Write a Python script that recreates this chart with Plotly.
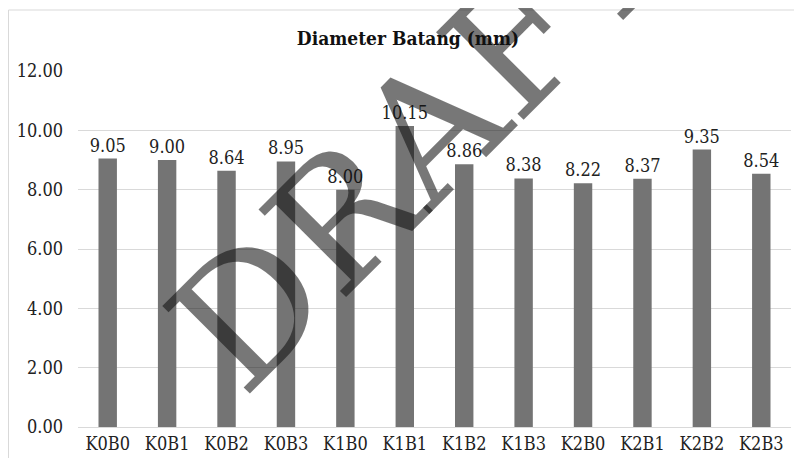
import plotly.graph_objects as go

categories = ["K0B0", "K0B1", "K0B2", "K0B3", "K1B0", "K1B1",
              "K1B2", "K1B3", "K2B0", "K2B1", "K2B2", "K2B3"]
values = [9.05, 9.00, 8.64, 8.95, 8.00, 10.15, 8.86, 8.38, 8.22, 8.37, 9.35, 8.54]
y_ticks = [0, 2, 4, 6, 8, 10, 12]
y_tick_labels = ["0.00", "2.00", "4.00", "6.00", "8.00", "10.00", "12.00"]
title_text = "Diameter Batang (mm)"
watermark_text = "DRAFT"

serif = "DejaVu Serif Condensed, DejaVu Serif"
serif_wm = "DejaVu Serif"

OFF = 8
W, H = 786, 450
L, R, T, B = 78 - OFF, W - (791 - OFF), 71 - OFF, H - (427 - OFF)
pw, ph = W - L - R, H - T - B


def px_x(p):
    return (p - OFF - L) / pw


def px_y(p):
    return (H - B - (p - OFF)) / ph


fig = go.Figure()
fig.add_trace(go.Bar(
    x=categories, y=values,
    marker=dict(color="#747474", line=dict(width=0)),
    text=[f"{v:.2f}" for v in values],
    textposition="outside",
    constraintext="none",
    cliponaxis=False,
    textfont=dict(family=serif, size=18, color="#222222"),
))

fig.update_layout(
    width=W, height=H,
    margin=dict(l=L, r=R, t=T, b=B),
    paper_bgcolor="white", plot_bgcolor="white",
    showlegend=False,
    bargap=0.69,
    font=dict(family=serif),
    title=dict(text=f"<b>{title_text}</b>", x=(408 - OFF) / W, xanchor="center",
               y=1 - (38 - OFF) / H, yanchor="middle",
               font=dict(family=serif, size=19, color="#111111")),
    xaxis=dict(showgrid=False, showline=False, ticks="",
               tickfont=dict(family=serif, size=18, color="#222222"),
               ticklabelstandoff=4),
    yaxis=dict(range=[0, 12], tickvals=y_ticks, ticktext=y_tick_labels,
               showgrid=True, gridcolor="#d9d9d9", gridwidth=1,
               zeroline=True, zerolinecolor="#d9d9d9", zerolinewidth=1,
               showline=False, ticks="",
               tickfont=dict(family=serif, size=18, color="#222222"),
               ticklabelstandoff=14),
    shapes=[dict(type="rect", xref="paper", yref="paper",
                 x0=px_x(8.5), x1=px_x(820), y0=px_y(480), y1=px_y(10),
                 line=dict(color="#d9d9d9", width=1), layer="below")],
    annotations=[dict(text=watermark_text, xref="paper", yref="paper",
                      x=px_x(420), y=px_y(140), xanchor="center", yanchor="middle",
                      textangle=-45, showarrow=False,
                      font=dict(family=serif_wm, size=170, color="rgba(15,15,15,0.57)"))],
)

fig.write_html("out.html")
